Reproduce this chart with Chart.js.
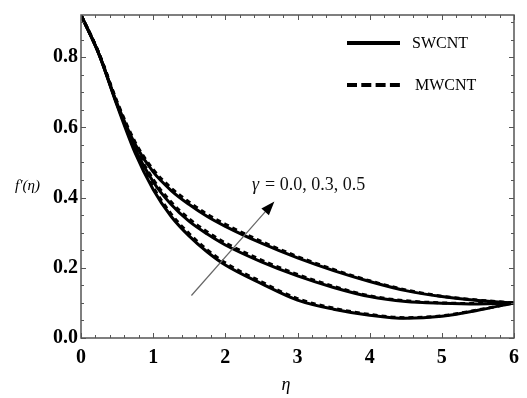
<!DOCTYPE html>
<html>
<head>
<meta charset="utf-8">
<script src="https://cdn.jsdelivr.net/npm/chart.js@4.4.0/dist/chart.umd.min.js"></script>
<style>
html, body { margin: 0; padding: 0; background: #fff; }
#wrap { width: 527px; height: 398px; }
</style>
</head>
<body>
<div id="wrap"><canvas id="velocityChart" width="527" height="398"></canvas></div>
<script>
// eta grid and f'(eta) profiles
const etaValues = [0, 0.25, 0.5, 0.75, 1, 1.25, 1.5, 1.75, 2, 2.5, 3, 3.5, 4, 4.5, 5, 5.5, 6];

const swcntGamma00 = [0.92, 0.808, 0.662, 0.527, 0.423, 0.346, 0.290, 0.245, 0.208, 0.155, 0.108, 0.082, 0.065, 0.056, 0.062, 0.079, 0.10];
const swcntGamma03 = [0.92, 0.808, 0.665, 0.538, 0.445, 0.380, 0.332, 0.296, 0.265, 0.217, 0.177, 0.144, 0.118, 0.104, 0.099, 0.097, 0.10];
const swcntGamma05 = [0.92, 0.808, 0.668, 0.552, 0.473, 0.420, 0.380, 0.346, 0.318, 0.270, 0.228, 0.192, 0.161, 0.135, 0.118, 0.107, 0.10];

const mwcntGamma00 = [0.92, 0.810, 0.667, 0.533, 0.430, 0.353, 0.297, 0.251, 0.214, 0.160, 0.112, 0.085, 0.067, 0.058, 0.063, 0.080, 0.10];
const mwcntGamma03 = [0.92, 0.810, 0.670, 0.544, 0.452, 0.387, 0.339, 0.302, 0.271, 0.222, 0.181, 0.147, 0.120, 0.106, 0.100, 0.098, 0.10];
const mwcntGamma05 = [0.92, 0.810, 0.673, 0.558, 0.480, 0.427, 0.387, 0.352, 0.324, 0.275, 0.232, 0.195, 0.163, 0.137, 0.119, 0.108, 0.10];

const xTickValues = [0, 1, 2, 3, 4, 5, 6];
const yTickValues = [0, 0.2, 0.4, 0.6, 0.8];
const xMinorStep = 0.2;
const yMinorStep = 0.05;

// arrow for increasing gamma, in data units
const arrowFrom = [1.53, 0.121];
const arrowTo = [2.68, 0.389];

const toPoints = ys => etaValues.map((x, i) => ({ x: x, y: ys[i] }));

const serif = '"Liberation Serif", "Times New Roman", serif';

function curve(label, ys, dashed) {
    return {
        label: label,
        data: toPoints(ys),
        borderColor: '#000',
        borderWidth: 3,
        borderDash: dashed ? [5, 4] : [],
        pointRadius: 0,
        fill: false,
        cubicInterpolationMode: 'monotone'
    };
}

const decorations = {
    id: 'decorations',
    afterDraw(chart) {
        const { ctx, chartArea: a, scales: { x, y } } = chart;
        ctx.save();

        // frame with inward ticks on all four sides
        ctx.strokeStyle = '#555';
        ctx.lineWidth = 1.5;
        ctx.strokeRect(a.left, a.top, a.right - a.left, a.bottom - a.top);
        ctx.lineWidth = 1;
        ctx.beginPath();
        for (let i = 0; i * xMinorStep <= 6 + 1e-9; i++) {
            const v = i * xMinorStep;
            const px = Math.round(x.getPixelForValue(v)) + 0.5;
            const len = xTickValues.some(t => Math.abs(t - v) < 1e-6) ? 5 : 3;
            ctx.moveTo(px, a.bottom); ctx.lineTo(px, a.bottom - len);
            ctx.moveTo(px, a.top); ctx.lineTo(px, a.top + len);
        }
        for (let i = 0; i * yMinorStep <= y.max + 1e-9; i++) {
            const v = i * yMinorStep;
            const py = Math.round(y.getPixelForValue(v)) + 0.5;
            const len = yTickValues.some(t => Math.abs(t - v) < 1e-6) ? 5 : 3;
            ctx.moveTo(a.left, py); ctx.lineTo(a.left + len, py);
            ctx.moveTo(a.right, py); ctx.lineTo(a.right - len, py);
        }
        ctx.stroke();

        // gamma arrow
        const x0 = x.getPixelForValue(arrowFrom[0]), y0 = y.getPixelForValue(arrowFrom[1]);
        const x1 = x.getPixelForValue(arrowTo[0]), y1 = y.getPixelForValue(arrowTo[1]);
        const ang = Math.atan2(y1 - y0, x1 - x0);
        ctx.strokeStyle = '#666';
        ctx.lineWidth = 1.2;
        ctx.beginPath();
        ctx.moveTo(x0, y0);
        ctx.lineTo(x1 - 10 * Math.cos(ang), y1 - 10 * Math.sin(ang));
        ctx.stroke();
        ctx.fillStyle = '#000';
        ctx.beginPath();
        ctx.moveTo(x1, y1);
        ctx.lineTo(x1 - 14 * Math.cos(ang) + 5 * Math.sin(ang), y1 - 14 * Math.sin(ang) - 5 * Math.cos(ang));
        ctx.lineTo(x1 - 14 * Math.cos(ang) - 5 * Math.sin(ang), y1 - 14 * Math.sin(ang) + 5 * Math.cos(ang));
        ctx.closePath();
        ctx.fill();

        // gamma label
        ctx.fillStyle = '#111';
        ctx.textBaseline = 'middle';
        ctx.textAlign = 'left';
        ctx.font = 'italic 18px ' + serif;
        ctx.fillText('\u03b3', 252, 185);
        ctx.font = '18px ' + serif;
        ctx.fillText('= 0.0, 0.3, 0.5', 265, 185);

        // legend
        ctx.strokeStyle = '#000';
        ctx.lineWidth = 4;
        ctx.beginPath();
        ctx.moveTo(347, 43); ctx.lineTo(400, 43);
        ctx.stroke();
        ctx.setLineDash([10, 4.3]);
        ctx.beginPath();
        ctx.moveTo(347, 85); ctx.lineTo(400, 85);
        ctx.stroke();
        ctx.setLineDash([]);
        ctx.font = '16px ' + serif;
        ctx.fillStyle = '#000';
        ctx.fillText(chart.data.datasets[0].label, 412, 44);
        ctx.fillText(chart.data.datasets[3].label, 415, 86);

        // axis titles
        ctx.font = 'italic 15px ' + serif;
        ctx.fillText('f\u2032(\u03b7)', 15, 186);
        ctx.textAlign = 'center';
        ctx.font = 'italic 18px ' + serif;
        ctx.fillText('\u03b7', 286, 385);

        ctx.restore();
    }
};

const ctx = document.getElementById('velocityChart').getContext('2d');
new Chart(ctx, {
    type: 'line',
    data: {
        datasets: [
            curve('SWCNT', swcntGamma00, false),
            curve('SWCNT', swcntGamma03, false),
            curve('SWCNT', swcntGamma05, false),
            curve('MWCNT', mwcntGamma00, true),
            curve('MWCNT', mwcntGamma03, true),
            curve('MWCNT', mwcntGamma05, true)
        ]
    },
    options: {
        responsive: false,
        devicePixelRatio: 1,
        animation: false,
        layout: { padding: { top: 10, right: 8, left: 0, bottom: 0 } },
        plugins: {
            legend: { display: false },
            tooltip: { enabled: false }
        },
        scales: {
            x: {
                type: 'linear',
                min: 0,
                max: 6,
                grid: { display: false, drawTicks: false },
                border: { display: false },
                afterBuildTicks: s => { s.ticks = xTickValues.map(v => ({ value: v })); },
                afterFit: s => { s.height = 60; },
                ticks: {
                    padding: 8,
                    color: '#000',
                    font: { family: serif, size: 20, weight: 'bold' },
                    callback: v => String(v)
                }
            },
            y: {
                type: 'linear',
                min: 0,
                max: 0.92,
                grid: { display: false, drawTicks: false },
                border: { display: false },
                afterBuildTicks: s => { s.ticks = yTickValues.map(v => ({ value: v })); },
                afterFit: s => { s.width = 81; },
                ticks: {
                    padding: 3,
                    color: '#000',
                    font: { family: serif, size: 20, weight: 'bold' },
                    callback: v => v.toFixed(1)
                }
            }
        }
    },
    plugins: [decorations]
});
</script>
</body>
</html>
